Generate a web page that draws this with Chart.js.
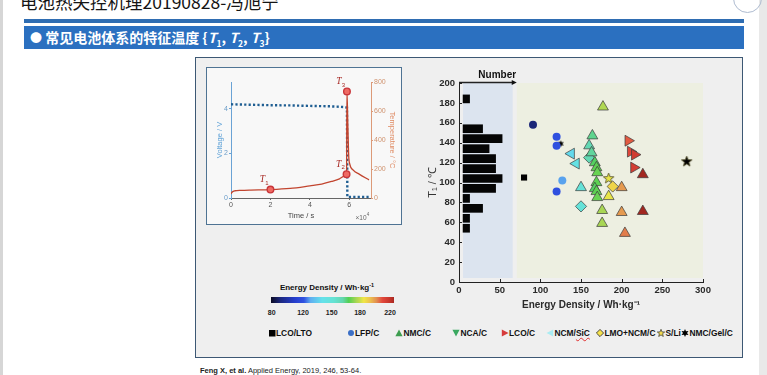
<!DOCTYPE html>
<html><head><meta charset="utf-8">
<script src="https://cdn.jsdelivr.net/npm/chart.js@4.4.1/dist/chart.umd.min.js"></script>
<style>
html,body{margin:0;padding:0;}
body{width:767px;height:375px;position:relative;overflow:hidden;background:#fff;font-family:"Liberation Sans",Arial,sans-serif;}
.a{position:absolute;}
.c{position:absolute;transform:translate(-50%,-50%);white-space:nowrap;}
</style></head><body>
<div class="a" style="left:0;top:0;width:3px;height:375px;background:#d6d6d6"></div>
<div class="a" style="left:759px;top:0;width:8px;height:375px;background:#e9e9e9"></div>
<div class="a" style="left:20px;top:-7px;font:17.5px/18px 'Noto Sans CJK SC';color:#151515;white-space:nowrap">电池热失控机理20190828-冯旭宁</div>
<div class="a" style="left:733px;top:-16px;width:27px;height:27px;border:1px solid #aebbd0;border-radius:50%"></div>
<div class="a" style="left:24px;top:19px;width:720px;height:4px;background:#2f6db2"></div>
<div class="a" style="left:24px;top:26px;width:720px;height:23px;background:#2b70c0;color:#fff;font:bold 14px/23px 'Noto Sans CJK SC';padding-left:6px;box-sizing:border-box;white-space:nowrap"><span style="font-size:12px">●</span> 常见电池体系的特征温度 {<i>T</i><sub style="font-size:8.5px">1</sub>, <i>T</i><sub style="font-size:8.5px">2</sub>, <i>T</i><sub style="font-size:8.5px">3</sub>}</div>
<div class="a" style="left:195px;top:57px;width:548px;height:301px;border:1.5px solid #3d5874;background:#efefef;box-sizing:border-box"></div>
<div class="a" style="left:206px;top:67px;width:196px;height:158px;border:1.5px solid #4e7393;background:#f8f8f8;box-sizing:border-box"></div>
<canvas id="c1" class="a" width="194" height="156" style="left:207px;top:68px"></canvas>
<canvas id="c2" class="a" width="330" height="255" style="left:410px;top:60px"></canvas>
<div class="c" style="left:327px;top:287px;font:bold 8px 'Liberation Sans';color:#111">Energy Density / Wh·kg<sup style="font-size:5.5px">-1</sup></div>
<canvas id="cb" class="a" width="123" height="6" style="left:271px;top:297px"></canvas>
<div id="cbl"></div>
<div id="leg"></div>
<div class="a" style="left:200px;top:366px;font:7.5px 'Liberation Sans';color:#222;white-space:nowrap"><b>Feng X, et al.</b> Applied Energy, 2019, 246, 53-64.</div>
<script>
// ---------- left panel data (time in 10^4 s) ----------
const timeTicks = [0, 2, 4, 6];
const voltTicks = [0, 2, 4];
const tempTicks = [0, 200, 400, 600, 800];
const voltTime  = [0, 1, 2, 3, 4, 5, 5.75, 5.88, 5.9, 6.3, 7.0];
const voltValue = [4.2, 4.18, 4.16, 4.15, 4.13, 4.11, 4.08, 4.05, 0.05, 0.05, 0.05];
const tempTime  = [0, 0.05, 0.2, 0.5, 1.0, 2.0, 3.0, 4.0, 4.6, 5.1, 5.5, 5.77, 5.86, 5.88, 5.93, 5.97, 6.02, 6.2, 6.5, 7.0];
const tempValue = [28, 40, 50, 53, 55, 58, 66, 84, 96, 114, 132, 152, 164, 735, 480, 290, 235, 192, 165, 125];
const markTime  = [2.0, 5.86, 5.88];
const markTemp  = [58, 164, 735];
const markName  = ['1', '2', '3'];

// ---------- right panel data ----------
const energyTicks = [0, 50, 100, 150, 200, 250, 300];
const t1Ticks = [0, 20, 40, 60, 80, 100, 120, 140, 160, 180, 200];
const histT1    = [50, 60, 70, 80, 90, 100, 110, 120, 130, 140, 150, 180];
const histCount = [1, 1, 3, 1, 5, 6, 5, 5, 4, 6, 3, 1];
const lcoLtoE = [80],  lcoLtoT = [105];
const lfpE = [91, 120, 120, 127, 120], lfpT = [158, 146, 137, 102, 91];
const nmcE = [150, 164, 160, 163, 167, 169, 170, 169, 167, 169, 170, 177, 176, 176, 184, 200, 200, 204, 226, 226];
const nmcT = [95, 147, 137, 130, 120, 115, 110, 100, 94, 91, 85, 176, 72, 59, 86, 95, 70, 49, 108, 71];
const ncaE = [], ncaT = [];
const lcoE = [208, 211, 216, 215], lcoT = [142, 131, 128, 115];
const ncmSiE = [138, 144], ncmSiT = [129, 119];
const lmoE = [150, 160, 189], lmoT = [76, 125, 96];
const sliE = [184, 280], sliT = [104, 121];
const gelE = [125], gelT = [139];
const cbarTicks = [80, 120, 150, 180, 220];

// ---------- colour map (energy density -> colour) ----------
const CMAP = [[80,[12,12,36]],[92,[28,40,128]],[110,[38,62,205]],[121,[48,82,225]],[128,[95,175,240]],[140,[100,225,235]],[152,[100,226,212]],[162,[100,214,172]],[168,[82,208,82]],[176,[168,214,84]],[185,[240,230,70]],[194,[236,190,78]],[202,[226,142,80]],[210,[226,72,60]],[220,[196,52,42]],[230,[140,30,25]]];
function cmap(E){
  if (E < 78 || E > 235) return 'rgb(0,0,0)';
  if (E <= CMAP[0][0]) return 'rgb(' + CMAP[0][1].join(',') + ')';
  for (let i = 1; i < CMAP.length; i++) {
    if (E <= CMAP[i][0]) {
      const [e0, c0] = CMAP[i-1], [e1, c1] = CMAP[i];
      const f = (E - e0) / (e1 - e0);
      return 'rgb(' + c0.map((v, k) => Math.round(v + (c1[k] - v) * f)).join(',') + ')';
    }
  }
  return 'rgb(' + CMAP[CMAP.length-1][1].join(',') + ')';
}
function starCanvas(n, R, r, fill, stroke, lw){
  const s = Math.ceil(2*R + 2*lw + 2);
  const c = document.createElement('canvas'); c.width = s; c.height = s;
  const g = c.getContext('2d'); g.translate(s/2, s/2); g.beginPath();
  for (let i = 0; i < 2*n; i++) { const rr = i % 2 ? r : R; const a = -Math.PI/2 + i*Math.PI/n; g.lineTo(rr*Math.cos(a), rr*Math.sin(a)); }
  g.closePath(); g.fillStyle = fill; g.fill();
  if (lw) { g.strokeStyle = stroke; g.lineWidth = lw; g.stroke(); }
  return c;
}
const pts = (X, Y) => X.map((x, i) => ({x: x, y: Y[i]}));
const FONT = "'Liberation Sans', Arial, sans-serif";
Chart.defaults.font.family = FONT;
Chart.defaults.animation = false;
const setTicks = arr => s => { s.ticks = arr.map(v => ({value: v})); };
const fitTo = (w, h) => s => { if (w != null) s.width = w; if (h != null) s.height = h; s.paddingTop = s.paddingBottom = s.paddingLeft = s.paddingRight = 0; };

// ---------- left chart ----------
const leftDeco = {
  id: 'leftDeco',
  afterDatasetsDraw(chart){
    const ctx = chart.ctx, meta = chart.getDatasetMeta(2);
    ctx.save(); ctx.fillStyle = '#a82a25'; ctx.textAlign = 'center'; ctx.textBaseline = 'middle';
    meta.data.forEach((el, i) => {
      const x = el.x - 8, y = el.y - 10;
      ctx.font = "italic 9.5px 'Liberation Serif'"; ctx.fillText('T', x, y);
      ctx.font = "6px " + FONT; ctx.fillText(markName[i], x + 4.5, y + 3.5);
    });
    const xs = chart.scales.x;
    ctx.fillStyle = '#666'; ctx.font = "6.5px " + FONT; ctx.fillText('×10', xs.right - 10, xs.bottom - 6);
    ctx.font = "4.5px " + FONT; ctx.fillText('4', xs.right - 3, xs.bottom - 9);
    ctx.restore();
  }
};
new Chart(document.getElementById('c1'), {
  type: 'line',
  data: { datasets: [
    { data: pts(voltTime, voltValue), yAxisID: 'yV', borderColor: '#1f5e92', borderWidth: 2.4, borderDash: [2.2, 2.2], pointRadius: 0, tension: 0, order: 3 },
    { data: pts(tempTime, tempValue), yAxisID: 'yT', borderColor: '#c2452f', borderWidth: 1.3, pointRadius: 0, cubicInterpolationMode: 'monotone', order: 2 },
    { data: pts(markTime, markTemp), yAxisID: 'yT', showLine: false, pointRadius: 3.3, pointBackgroundColor: '#ef6a63', pointBorderColor: '#c8353a', pointBorderWidth: 1.4, order: 1 }
  ]},
  options: {
    responsive: false, animation: false,
    layout: { padding: { top: 14, left: 0, right: 0, bottom: 0 } },
    plugins: { legend: { display: false }, tooltip: { enabled: false } },
    scales: {
      x: { type: 'linear', min: 0, max: 7.1, afterBuildTicks: setTicks(timeTicks), afterFit: fitTo(null, 26),
           grid: { drawOnChartArea: false, tickLength: 2, color: '#666' }, border: { color: '#666', width: 1 },
           ticks: { font: { size: 7 }, color: '#555', padding: 1, maxRotation: 0 },
           title: { display: true, text: 'Time / s', font: { size: 7.5 }, color: '#444', padding: { top: 0, bottom: 4 } } },
      yV: { position: 'left', min: 0, max: 5.2, afterBuildTicks: setTicks(voltTicks), afterFit: fitTo(24, null),
           grid: { drawOnChartArea: false, tickLength: 2, color: '#6aa3d5' }, border: { color: '#6aa3d5', width: 1 },
           ticks: { font: { size: 7 }, color: '#6a9cc8', padding: 1 },
           title: { display: true, text: 'Voltage / V', font: { size: 7.5 }, color: '#5a9fd6', padding: { top: 8, bottom: 0 } } },
      yT: { position: 'right', min: 0, max: 800, afterBuildTicks: setTicks(tempTicks), afterFit: fitTo(30, null),
           grid: { drawOnChartArea: false, tickLength: 2, color: '#dc9a78' }, border: { color: '#dc9a78', width: 1 },
           ticks: { font: { size: 7 }, color: '#d0936f', padding: 1 },
           title: { display: true, text: 'Temperature / °C', font: { size: 7.5 }, color: '#df8a62', padding: { top: 4, bottom: 0 } } }
    }
  },
  plugins: [leftDeco]
});

// ---------- right chart ----------
const rightDeco = {
  id: 'rightDeco',
  beforeDatasetsDraw(chart){
    const {ctx, scales: {x, y}} = chart;
    ctx.save();
    const top = y.getPixelForValue(200), bot = y.getPixelForValue(4);
    ctx.fillStyle = '#dce4ef';
    ctx.fillRect(x.getPixelForValue(5), top, x.getPixelForValue(66) - x.getPixelForValue(5), bot - top);
    ctx.fillStyle = '#edefe1';
    ctx.fillRect(x.getPixelForValue(71), top, x.getPixelForValue(300) - x.getPixelForValue(71), bot - top);
    ctx.restore();
  },
  afterDraw(chart){
    const {ctx, scales: {x, y}} = chart;
    ctx.save();
    ctx.strokeStyle = '#222'; ctx.lineWidth = 1;
    energyTicks.forEach(v => { const p = Math.round(x.getPixelForValue(v)) + 0.5; ctx.beginPath(); ctx.moveTo(p, y.bottom); ctx.lineTo(p, y.bottom - 3); ctx.stroke(); });
    t1Ticks.forEach(v => { const p = Math.round(y.getPixelForValue(v)) + 0.5; ctx.beginPath(); ctx.moveTo(x.left, p); ctx.lineTo(x.left + 3, p); ctx.stroke(); });
    const ay = y.getPixelForValue(200) - 0.5, x0 = x.getPixelForValue(0), x1 = x.getPixelForValue(71);
    ctx.lineWidth = 1.4; ctx.beginPath(); ctx.moveTo(x0, ay); ctx.lineTo(x1 - 4, ay); ctx.stroke();
    ctx.fillStyle = '#111'; ctx.beginPath(); ctx.moveTo(x1, ay); ctx.lineTo(x1 - 5, ay - 2.5); ctx.lineTo(x1 - 5, ay + 2.5); ctx.closePath(); ctx.fill();
    ctx.font = "bold 10px " + FONT; ctx.textAlign = 'center'; ctx.textBaseline = 'middle';
    ctx.fillText('Number', x.getPixelForValue(47), ay - 7.5);
    ctx.restore();
  }
};
const starCache = {};
const sliStyle = c => { const col = cmap(sliE[c.dataIndex]); return starCache[col] || (starCache[col] = starCanvas(5, 5.5, 2.3, col, '#4a4520', 0.8)); };
const triBorder = '#3b3b3b';
new Chart(document.getElementById('c2'), {
  type: 'scatter',
  data: { datasets: [
    { type: 'bar', indexAxis: 'y', xAxisID: 'x2', yAxisID: 'y', data: pts(histCount, histT1), backgroundColor: '#050505', borderWidth: 0, barThickness: 8 },
    { data: pts(lcoLtoE, lcoLtoT), pointStyle: 'rect', pointRadius: 4.3, backgroundColor: '#000', borderColor: '#000', borderWidth: 0 },
    { data: pts(lfpE, lfpT), pointStyle: 'circle', pointRadius: 4, backgroundColor: lfpE.map(cmap), borderColor: lfpE.map(cmap), borderWidth: 0 },
    { data: pts(nmcE, nmcT), pointStyle: 'triangle', pointRadius: 6.3, backgroundColor: nmcE.map(cmap), borderColor: triBorder, borderWidth: 0.7 },
    { data: pts(ncaE, ncaT), pointStyle: 'triangle', rotation: 180, pointRadius: 6.3, backgroundColor: ncaE.map(cmap), borderColor: triBorder, borderWidth: 0.7 },
    { data: pts(lcoE, lcoT), pointStyle: 'triangle', rotation: 90, pointRadius: 6.3, backgroundColor: lcoE.map(cmap), borderColor: triBorder, borderWidth: 0.7 },
    { data: pts(ncmSiE, ncmSiT), pointStyle: 'triangle', rotation: 270, pointRadius: 6.3, backgroundColor: ncmSiE.map(cmap), borderColor: triBorder, borderWidth: 0.7 },
    { data: pts(lmoE, lmoT), pointStyle: 'rectRot', pointRadius: 5.6, backgroundColor: lmoE.map(cmap), borderColor: triBorder, borderWidth: 0.7 },
    { data: pts(sliE, sliT), pointStyle: sliStyle, pointRadius: 5 },
    { data: pts(gelE, gelT), pointStyle: starCanvas(6, 3.6, 1.8, '#000', '#000', 0), pointRadius: 3 }
  ]},
  options: {
    responsive: false, animation: false,
    layout: { padding: { top: 23, right: 37, left: 0, bottom: 0 } },
    plugins: { legend: { display: false }, tooltip: { enabled: false } },
    scales: {
      x: { type: 'linear', position: 'bottom', offset: false, min: 0, max: 300, afterBuildTicks: setTicks(energyTicks), afterFit: fitTo(null, 33),
           grid: { display: false, drawTicks: false, tickLength: 0 }, border: { color: '#222', width: 1 },
           ticks: { font: { size: 9.5, weight: 'bold' }, color: '#2a2a2a', padding: 3, maxRotation: 0 },
           title: { display: true, text: 'Energy Density / Wh·kg⁻¹', font: { size: 10, weight: 'bold' }, color: '#2a2a2a', padding: { top: 0, bottom: 4 } } },
      x2: { type: 'linear', position: 'bottom', display: false, offset: false, min: -0.625, max: 36.875 },
      y: { type: 'linear', offset: false, min: 0, max: 200, afterBuildTicks: setTicks(t1Ticks), afterFit: fitTo(49, null),
           grid: { display: false, offset: false, drawTicks: false, tickLength: 0 }, border: { color: '#222', width: 1 },
           ticks: { font: { size: 9.5, weight: 'bold' }, color: '#2a2a2a', padding: 4 },
           title: { display: true, text: 'T₁ / ℃', font: { size: 11 }, color: '#333', padding: { top: 16, bottom: 0 } } }
    }
  },
  plugins: [rightDeco]
});

// ---------- colour bar ----------
(function(){
  const cv = document.getElementById('cb'), g = cv.getContext('2d');
  const px = [0, 32, 60.7, 89, 119, 123], ev = [80, 120, 150, 180, 220, 225];
  for (let i = 0; i < cv.width; i++) {
    let k = 1; while (k < px.length - 1 && i + 0.5 > px[k]) k++;
    const E = ev[k-1] + (ev[k] - ev[k-1]) * (i + 0.5 - px[k-1]) / (px[k] - px[k-1]);
    g.fillStyle = cmap(Math.min(E, 228)); g.fillRect(i, 0, 1, cv.height);
  }
  const labX = [271.7, 303, 331.7, 360, 390];
  document.getElementById('cbl').innerHTML = cbarTicks.map((v, i) =>
    `<div class="c" style="left:${labX[i]}px;top:312px;font:bold 7px ${FONT};color:#222">${v}</div>`).join('');
})();

// ---------- legend ----------
(function(){
  const S = {
    sq: '<rect x="1" y="1" width="6.5" height="6.5" fill="#000"/>',
    circ: '<circle cx="4" cy="4" r="3" fill="#3b6fc6"/>',
    tri: '<polygon points="4,0.5 7.6,7.2 0.4,7.2" fill="#3d9d4f"/>',
    tridown: '<polygon points="0.4,0.8 7.6,0.8 4,7.5" fill="#3aa860"/>',
    triright: '<polygon points="0.8,0.4 7.6,4 0.8,7.6" fill="#d63b3b"/>',
    trileft: '<polygon points="7.2,0.4 0.6,4 7.2,7.6" fill="#a9ecf3"/>',
    diamond: '<polygon points="4,0.4 7.6,4 4,7.6 0.4,4" fill="#f6e24c" stroke="#222" stroke-width="0.8"/>',
    star5: '<polygon points="4,0.3 5,2.9 7.7,3 5.6,4.7 6.3,7.5 4,5.9 1.7,7.5 2.4,4.7 0.3,3 3,2.9" fill="#f3da4e" stroke="#333" stroke-width="0.7"/>',
    star6: '<polygon points="4,0 5,2.3 7.5,2 6,4 7.5,6 5,5.7 4,8 3,5.7 0.5,6 2,4 0.5,2 3,2.3" fill="#000"/>'
  };
  const items = [['sq',271.5,'LCO/LTO'],['circ',350.5,'LFP/C'],['tri',399,'NMC/C'],['tridown',456,'NCA/C'],['triright',504.5,'LCO/C'],['trileft',550,'NCM/<span style="text-decoration:underline wavy #e03030">SiC</span>'],['diamond',600,'LMO+NCM/C'],['star5',661,'S/Li'],['star6',685,'NMC/Gel/C']];
  document.getElementById('leg').innerHTML = items.map(([m, x, t]) =>
    `<svg class="a" style="left:${x-4}px;top:329px" width="8" height="8" viewBox="0 0 8 8">${S[m]}</svg>` +
    `<div class="a" style="left:${x+4.5}px;top:327px;font:bold 8.4px/12px ${FONT};color:#111;white-space:nowrap">${t}</div>`).join('');
})();
</script>
</body></html>
